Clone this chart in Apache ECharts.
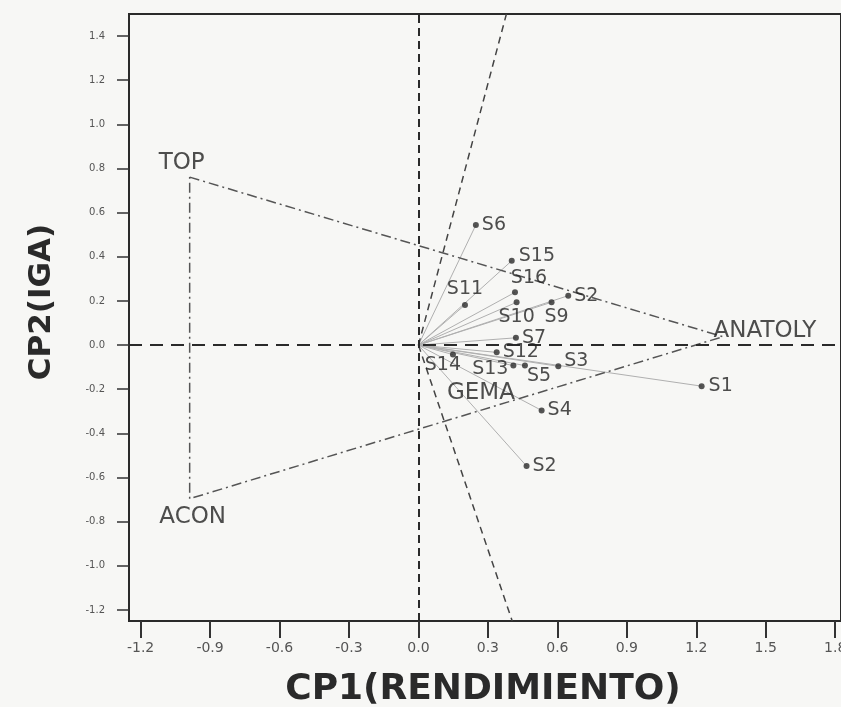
<!DOCTYPE html>
<html><head><meta charset="utf-8">
<script src="https://cdn.jsdelivr.net/npm/echarts@6/dist/echarts.min.js"></script>
<style>html,body{margin:0;padding:0;background:#f7f7f5}#c{width:841px;height:707px}</style>
</head><body><div id="c"></div>
<script>
// ---- data ----
const siteNames = ['S6','S15','S16','S10','S9','S2','S11','S7','S12','S3','S14','S13','S5','S1','S4','S2'];
const siteCP1 = [0.248,0.403,0.417,0.424,0.575,0.647,0.201,0.421,0.338,0.604,0.149,0.410,0.460,1.223,0.532,0.467];
const siteCP2 = [0.544,0.382,0.239,0.194,0.194,0.224,0.182,0.033,-0.033,-0.096,-0.043,-0.093,-0.093,-0.186,-0.296,-0.548];
const genoNames = ['TOP','ANATOLY','ACON','GEMA'];
const genoCP1 = [-0.988,1.315,-0.988,0.27];
const genoCP2 = [0.761,0.038,-0.696,-0.215];
const polygonOrder = ['TOP','ANATOLY','ACON','TOP'];
const rayCP1 = [0.38,0.405];
const rayCP2 = [1.5,-1.25];
const xTicks = [-1.2,-0.9,-0.6,-0.3,0.0,0.3,0.6,0.9,1.2,1.5,1.8];
const yTicks = [-1.2,-1.0,-0.8,-0.6,-0.4,-0.2,0.0,0.2,0.4,0.6,0.8,1.0,1.2,1.4];

// ---- label placement (style) ----
const siteLabelStyle = [
  {position:'right',distance:3},
  {position:'right',distance:4,offset:[0,-5]},
  {position:'top',distance:2,offset:[14,0]},
  {position:'bottom',distance:2},
  {position:'bottom',distance:2,offset:[5,0]},
  {position:'right',distance:3},
  {position:'top',distance:3},
  {position:'right',distance:3},
  {position:'right',distance:3},
  {position:'right',distance:3,offset:[0,-5]},
  {position:'bottom',distance:0,offset:[-10,-2]},
  {position:'left',distance:2,offset:[0,3]},
  {position:'right',distance:0,offset:[-1,10]},
  {position:'right',distance:4},
  {position:'right',distance:3},
  {position:'right',distance:3}
];
const genoLabelOffset = {TOP:[-8,-14], ANATOLY:[42,-6], ACON:[3,18], GEMA:[0,0]};

const FONT = '"DejaVu Sans", "Liberation Sans", sans-serif';
const chart = echarts.init(document.getElementById('c'), null, {renderer:'canvas'});

const siteData = siteNames.map((n,i)=>({
  name:n, value:[siteCP1[i], siteCP2[i]],
  label: Object.assign({show:true, formatter:n}, siteLabelStyle[i])
}));
const genoIdx = n => genoNames.indexOf(n);
const genoData = genoNames.map((n,i)=>({
  name:n, value:[genoCP1[i], genoCP2[i]],
  label:{show:true, position:'inside', offset:genoLabelOffset[n], formatter:n}
}));
const polyCoords = polygonOrder.map(n=>[genoCP1[genoIdx(n)], genoCP2[genoIdx(n)]]);

const option = {
  backgroundColor:'#f7f7f5',
  animation:false,
  grid:{left:129, top:14, right:0, bottom:86, outerBoundsMode:'none', containLabel:false,
    show:true, borderColor:'#2a2a2a', borderWidth:2, backgroundColor:'transparent'},
  xAxis:{
    type:'value', min:-1.25, max:1.825,
    axisLine:{show:true, onZero:false, lineStyle:{color:'#2a2a2a', width:2}},
    axisTick:{show:true, length:17, lineStyle:{color:'#333', width:2}, customValues:xTicks},
    axisLabel:{color:'#555', fontSize:14, fontFamily:FONT, margin:20, customValues:xTicks,
      hideOverlap:false, formatter:v=>v.toFixed(1)},
    splitLine:{show:false}
  },
  yAxis:{
    type:'value', min:-1.25, max:1.5,
    axisLine:{show:true, onZero:false, lineStyle:{color:'#2a2a2a', width:2}},
    axisTick:{show:true, length:12, lineStyle:{color:'#333', width:1.5}, customValues:yTicks},
    axisLabel:{color:'#555', fontSize:10, fontFamily:FONT, margin:24, customValues:yTicks,
      formatter:v=>v.toFixed(1)},
    splitLine:{show:false}
  },
  graphic:[
    {type:'text', x:483, y:690, silent:true,
      style:{text:'CP1(RENDIMIENTO)', font:'bold 36px "DejaVu Sans"', fill:'#2a2a2a', align:'center', verticalAlign:'middle'}},
    {type:'text', x:42, y:302, rotation:Math.PI/2, silent:true,
      style:{text:'CP2(IGA)', font:'bold 31px "DejaVu Sans"', fill:'#2a2a2a', align:'center', verticalAlign:'middle'}}
  ],
  series:[
    {
      type:'lines', coordinateSystem:'cartesian2d', silent:true, z:1,
      lineStyle:{color:'#b0b0b0', width:1, opacity:1},
      data: siteNames.map((n,i)=>({coords:[[0,0],[siteCP1[i],siteCP2[i]]]})),
      markLine:{
        silent:true, symbol:['none','none'], label:{show:false},
        data:[
          {xAxis:0, lineStyle:{type:[8,5], color:'#2a2a2a', width:2}},
          {yAxis:0, lineStyle:{type:[13,8], color:'#2a2a2a', width:2}}
        ]
      }
    },
    {
      type:'lines', coordinateSystem:'cartesian2d', silent:true, z:2,
      lineStyle:{color:'#444', width:1.5, type:[7,5], opacity:1},
      data: rayCP1.map((x,i)=>({coords:[[0,0],[x,rayCP2[i]]]}))
    },
    {
      type:'lines', coordinateSystem:'cartesian2d', polyline:true, silent:true, z:2,
      lineStyle:{color:'#555', width:1.5, type:[10,4,2,4], opacity:1},
      data:[{coords:polyCoords}]
    },
    {
      type:'scatter', z:5, symbol:'circle', symbolSize:6,
      itemStyle:{color:'#2a2a2a'},
      label:{color:'#222', fontSize:19, fontFamily:FONT},
      data: siteData
    },
    {
      type:'scatter', z:5, symbolSize:0,
      itemStyle:{color:'transparent'},
      label:{color:'#222', fontSize:23, fontFamily:FONT},
      data: genoData
    }
  ]
};
chart.setOption(option);
</script>
</body></html>
